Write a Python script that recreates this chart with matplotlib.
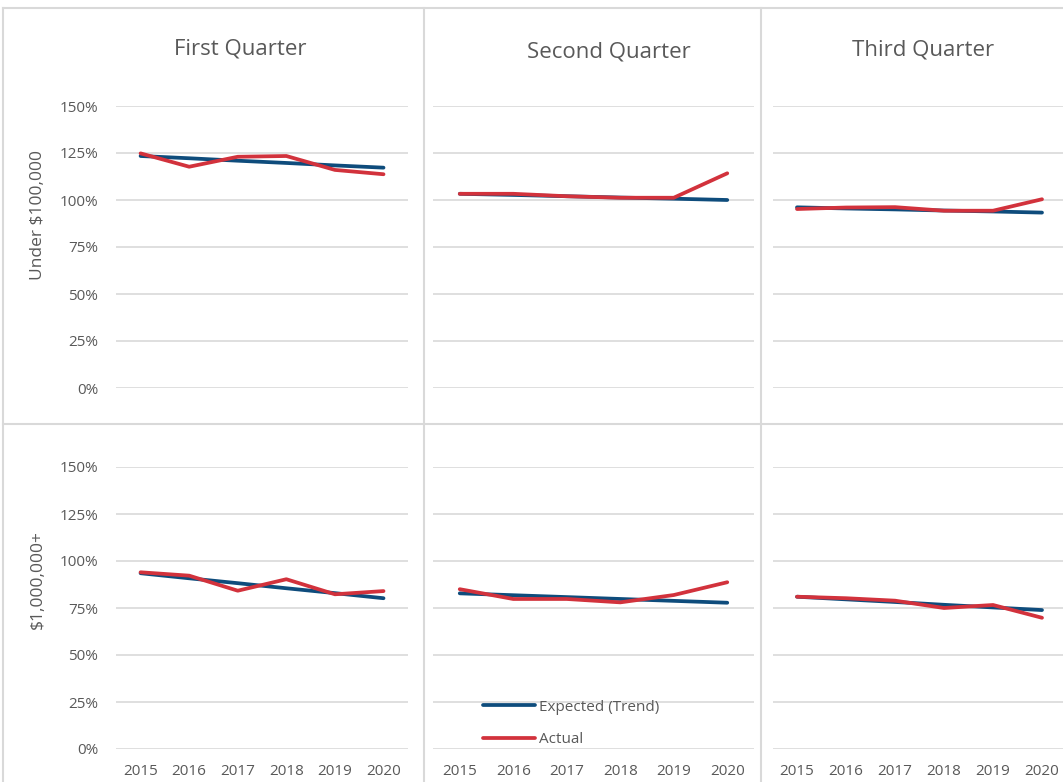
import matplotlib.pyplot as plt
from matplotlib.lines import Line2D
from matplotlib.ticker import FuncFormatter

plt.rcParams['font.family'] = ['Open Sans', 'DejaVu Sans']

years = ['2015', '2016', '2017', '2018', '2019', '2020']
quarters = ['First Quarter', 'Second Quarter', 'Third Quarter']
groups = ['Under $100,000', '$1,000,000+']

# percent values, rows = groups, cols = quarters
expected = [
    [[123.4, 122.2, 120.9, 119.7, 118.4, 117.2],
     [103.3, 102.7, 102.0, 101.3, 100.7, 100.0],
     [96.1, 95.5, 95.0, 94.4, 93.9, 93.3]],
    [[93.5, 90.8, 88.2, 85.5, 82.9, 80.2],
     [82.8, 81.8, 80.8, 79.8, 78.8, 77.8],
     [81.0, 79.6, 78.2, 76.7, 75.3, 73.9]],
]
actual = [
    [[124.8, 117.7, 123.0, 123.4, 116.0, 113.7],
     [103.3, 103.3, 102.0, 101.2, 101.2, 114.2],
     [95.2, 96.0, 96.2, 94.3, 94.3, 100.4]],
    [[94.0, 92.2, 84.2, 90.3, 82.3, 84.0],
     [85.0, 79.8, 79.8, 78.0, 81.9, 88.7],
     [81.0, 80.2, 78.9, 75.0, 76.6, 69.8]],
]

W, H = 1063, 782
blue = '#0E4C7C'
red = '#D2323C'
grid = '#D9D9D9'
txt = '#595959'

fig = plt.figure(figsize=(W / 100, H / 100), dpi=100)

cols_px = [(116.3, 407.8), (433.0, 754.0), (772.5, 1066.5)]
rows_px = [(106, 388), (467, 749)]

for r in range(2):
    for c in range(3):
        x0, x1 = cols_px[c]
        y0, y1 = rows_px[r]
        ax = fig.add_axes([x0 / W, (H - y1) / H, (x1 - x0) / W, (y1 - y0) / H])
        ax.plot(range(6), expected[r][c], color=blue, lw=2.7, solid_capstyle='round',
                label='Expected (Trend)', zorder=3)
        ax.plot(range(6), actual[r][c], color=red, lw=2.7, solid_capstyle='round',
                label='Actual', zorder=4)
        ax.set_xlim(-0.5, 5.5)
        ax.set_ylim(0, 150)
        ax.set_yticks(range(0, 151, 25))
        ax.yaxis.set_major_formatter(FuncFormatter(lambda v, p: f'{v:.0f}%'))
        ax.grid(axis='y', color=grid, lw=1.2)
        ax.set_axisbelow(True)
        for s in ax.spines.values():
            s.set_visible(False)
        ax.tick_params(length=0, labelsize=11, labelcolor=txt)
        ax.tick_params(axis='y', pad=13)
        ax.tick_params(axis='x', pad=11)
        ax.set_xticks(range(6))
        if r == 1:
            ax.set_xticklabels(years)
        else:
            ax.set_xticklabels([])
        if c != 0:
            ax.set_yticklabels([])
        if r == 1 and c == 1:
            ax.legend(loc='lower left', bbox_to_anchor=(0.136, -0.016), frameon=False,
                      fontsize=11, labelcolor=txt, handlelength=3.4, handletextpad=0.3,
                      labelspacing=1.15, borderaxespad=0)

# panel titles and row labels
title_x = [240, 609, 923]
title_y = [49, 52, 50]
for c in range(3):
    fig.text(title_x[c] / W, 1 - title_y[c] / H, quarters[c], ha='center', va='center',
             fontsize=16, color=txt)
fig.text(38 / W, 1 - 215 / H, groups[0], rotation=90, ha='center', va='center',
         fontsize=12.5, color=txt)
fig.text(38 / W, 1 - 580 / H, groups[1], rotation=90, ha='center', va='center',
         fontsize=12.5, color=txt)

# panel borders
border = dict(color='#D9D9D9', lw=1.5, transform=fig.transFigure)
fig.add_artist(Line2D([3 / W, 1], [1 - 8 / H, 1 - 8 / H], **border))
fig.add_artist(Line2D([3 / W, 3 / W], [0, 1 - 8 / H], **border))
fig.add_artist(Line2D([3 / W, 1], [1 - 424 / H, 1 - 424 / H], **border))
fig.add_artist(Line2D([424 / W, 424 / W], [0, 1 - 8 / H], **border))
fig.add_artist(Line2D([761 / W, 761 / W], [0, 1 - 8 / H], **border))

fig.savefig('out.png', dpi=100, facecolor='white')
